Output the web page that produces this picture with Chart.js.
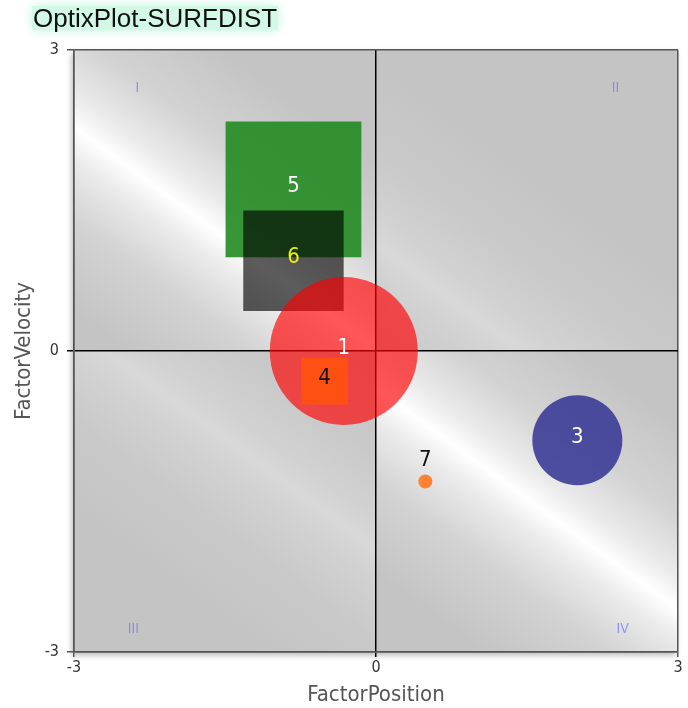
<!DOCTYPE html>
<html>
<head>
<meta charset="utf-8">
<title>OptixPlot-SURFDIST</title>
<script src="https://cdn.jsdelivr.net/npm/chart.js@4.4.1/dist/chart.umd.min.js"></script>
<style>
  html, body { margin: 0; padding: 0; background: #fff; }
  #wrap { width: 688px; height: 708px; }
</style>
</head>
<body>
<div id="wrap"><canvas id="chart"></canvas></div>
<script>
'use strict'

  /////////////////////////////
 // chart values            //
/////////////////////////////

const ITEM_LABELS = [ '5', '6', '1', '4', '3', '7' ];          // draw order, bottom first
const POSITION    = [ -0.82, -0.82, -0.32, -0.51, 2.0, 0.49 ];  // FactorPosition
const VELOCITY    = [ 1.61, 0.9, 0, -0.3, -0.89, -1.3 ];        // FactorVelocity
const BUBBLE_SIZE = [ 96, 71, 74, 33, 45, 7 ];                   // bubble r
const AXIS_TICKS  = [ -3, 0, 3 ];
const QUADRANTS   = [ 'I', 'II', 'III', 'IV' ];

  /////////////////////////////
 // styles                  //
/////////////////////////////

const FONT = '"DejaVu Sans Condensed", "DejaVu Sans", sans-serif';
const GRAY = '#c4c4c4';

const FILL = [
  'rgba(34,139,34,0.9)',
  'rgba(0,0,0,0.64)',
  'rgba(255,0,0,0.66)',
  'rgb(255,80,20)',
  'rgba(56,56,150,0.88)',
  'rgb(255,130,50)'
];
const SHAPE      = [ 'rect', 'rect', 'circle', 'rect', 'circle', 'circle' ];
const TEXT_COLOR = [ '#fff', '#f0f000', '#fff', '#111', '#fff', '#111' ];

// where the quadrant numerals sit (data units)
const QUAD_POS = [ [-2.37, 2.62], [2.38, 2.62], [-2.41, -2.77], [2.45, -2.77] ];

// light stripes of the backdrop, one per quadrant: a point on the stripe (data units) + peak colour
const STRIPES = [
  { qx: -1, qy:  1, at: [-3, 2.23],     peak: '#ffffff' },
  { qx:  1, qy:  1, at: [0.51, 0.69],   peak: '#d8d8d8' },
  { qx: -1, qy: -1, at: [-0.93, -1.29], peak: '#d8d8d8' },
  { qx:  1, qy: -1, at: [-0.18, -0.24], peak: '#ffffff' }
];

/**
 * backdrop of the plot: grey with a glossy diagonal stripe in every quadrant
 */
const backdropPlugin = {
  id: 'backdrop',
  beforeDraw( chart ){
    const { ctx, chartArea: a, scales: { x, y } } = chart;
    const x0 = x.getPixelForValue(0);
    const y0 = y.getPixelForValue(0);

    ctx.save();
    ctx.shadowColor = 'rgba(0,0,0,0.3)';
    ctx.shadowBlur = 6;
    ctx.shadowOffsetX = -2;
    ctx.shadowOffsetY = 3;
    ctx.fillStyle = GRAY;
    ctx.fillRect( a.left, a.top, a.width, a.height );
    ctx.restore();

    const nx = 0.59, ny = -0.807, L = 150;

    STRIPES.forEach( s => {
      const left   = s.qx < 0 ? a.left : x0;
      const right  = s.qx < 0 ? x0 : a.right;
      const top    = s.qy > 0 ? a.top : y0;
      const bottom = s.qy > 0 ? y0 : a.bottom;
      const px = x.getPixelForValue( s.at[0] );
      const py = y.getPixelForValue( s.at[1] );

      const g = ctx.createLinearGradient( px - nx*L, py - ny*L, px + nx*L, py + ny*L );
      const soft = s.peak === '#ffffff' ? '#d3d3d3' : '#c9c9c9';
      const near = s.peak === '#ffffff' ? '#ececec' : '#d2d2d2';
      g.addColorStop( 0, GRAY );
      g.addColorStop( 0.25, soft );
      g.addColorStop( 0.42, near );
      g.addColorStop( 0.5, s.peak );
      g.addColorStop( 0.58, near );
      g.addColorStop( 0.75, soft );
      g.addColorStop( 1, GRAY );

      ctx.fillStyle = g;
      ctx.fillRect( left, top, right - left, bottom - top );
    });
  },

  beforeDatasetsDraw( chart ){
    const { ctx, scales: { x, y } } = chart;
    ctx.save();
    ctx.font = '14px ' + FONT;
    ctx.fillStyle = 'rgba(110,110,255,0.68)';
    ctx.textAlign = 'center';
    ctx.textBaseline = 'middle';
    QUADRANTS.forEach( ( q, i ) => {
      ctx.fillText( q, x.getPixelForValue( QUAD_POS[i][0] ), y.getPixelForValue( QUAD_POS[i][1] ) );
    });
    ctx.restore();
  }
};

/**
 * numbers on the bubbles + the glowing title
 */
const labelPlugin = {
  id: 'labels',
  afterDatasetsDraw( chart ){
    const { ctx } = chart;
    const meta = chart.getDatasetMeta(0);
    ctx.save();
    ctx.font = '22px ' + FONT;
    ctx.textAlign = 'center';
    ctx.textBaseline = 'middle';
    meta.data.forEach( ( pt, i ) => {
      const r = pt.options.radius;
      const ty = r < 12 ? pt.y - r - 14 : pt.y - 3;
      ctx.fillStyle = TEXT_COLOR[i];
      ctx.fillText( ITEM_LABELS[i], pt.x, ty );
    });
    ctx.restore();
  },

  afterDraw( chart ){
    const { ctx } = chart;
    ctx.save();
    ctx.shadowColor = 'rgba(190,245,220,1)';
    ctx.shadowBlur = 12;
    ctx.fillStyle = 'rgba(210,248,230,1)';
    ctx.fillRect( 32, 6, 246, 24 );
    ctx.restore();

    ctx.save();
    ctx.font = '26px "Liberation Sans", Arial, sans-serif';
    ctx.fillStyle = '#111';
    ctx.textBaseline = 'alphabetic';
    ctx.fillText( 'OptixPlot-SURFDIST', 33, 27 );
    ctx.restore();
  }
};

const gridColor = c => ( c.tick && c.tick.value === 0 ) ? '#000' : '#555';

const axis = ( title, titlePad, fit ) => ({
  type: 'linear',
  min: -3,
  max: 3,
  afterBuildTicks: scale => { scale.ticks = AXIS_TICKS.map( v => ({ value: v }) ); },
  afterFit: fit,
  ticks: {
    font: { family: FONT, size: 16 },
    color: '#333',
    padding: title === 'FactorVelocity' ? 8 : 1
  },
  grid: {
    color: gridColor,
    lineWidth: 1.5,
    tickLength: title === 'FactorVelocity' ? 7 : 5
  },
  border: { color: '#555', width: 1.5 },
  title: {
    display: true,
    text: title,
    color: '#555',
    font: { family: FONT, size: 22 },
    padding: titlePad
  }
});

window.onload = () => {

  const points = ITEM_LABELS.map( ( l, i ) => ({
    x: POSITION[i],
    y: VELOCITY[i],
    r: BUBBLE_SIZE[i]
  }));

  new Chart(
    document.getElementById( 'chart' ),
    {
      type: 'bubble',
      data: {
        datasets: [{
          label: 'SURFDIST',
          data: points,
          backgroundColor: FILL,
          pointStyle: SHAPE,
          borderWidth: 0
        }]
      },
      options: {
        responsive: true,
        maintainAspectRatio: false,
        animation: false,
        events: [],
        layout: { autoPadding: false, padding: { top: 50, right: 10, left: 0, bottom: 0 } },
        plugins: {
          legend: { display: false },
          tooltip: { enabled: false }
        },
        scales: {
          x: axis( 'FactorPosition', { top: 0, bottom: 0 }, s => { s.height = 56; } ),
          y: axis( 'FactorVelocity', { top: 11, bottom: 0 }, s => { s.width = 74; } )
        }
      },
      plugins: [ backdropPlugin, labelPlugin ]
    }
  );
}
</script>
</body>
</html>
